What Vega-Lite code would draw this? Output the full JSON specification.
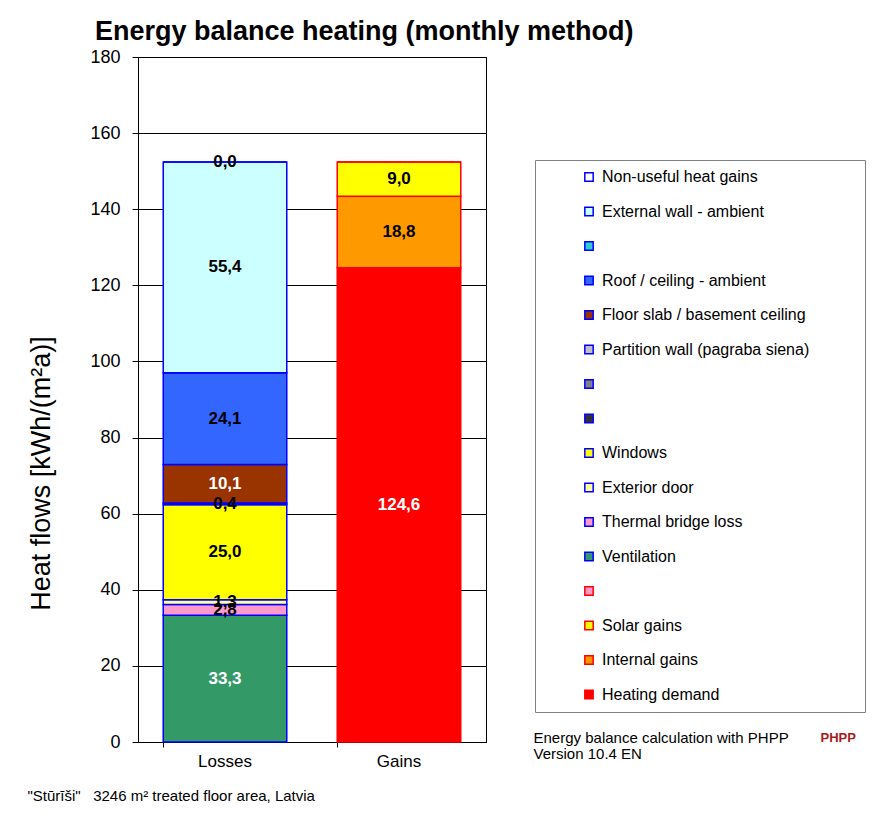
{
  "$schema": "https://vega.github.io/schema/vega-lite/v6.json",
  "width": 348,
  "height": 685,
  "autosize": {"type": "none"},
  "padding": {"left": 138, "top": 57, "right": 399, "bottom": 74},
  "background": "white",
  "title": {
    "text": "Energy balance heating (monthly method)",
    "anchor": "start",
    "frame": "group",
    "dx": -43,
    "dy": 26,
    "offset": 7,
    "baseline": "alphabetic",
    "font": "Liberation Sans",
    "fontSize": 27,
    "fontWeight": "bold",
    "color": "black"
  },
  "data": {
    "values": [
      {"bar": "Losses", "item": "Ventilation", "value": 33.3, "order": 1},
      {"bar": "Losses", "item": "Thermal bridge loss", "value": 2.8, "order": 2},
      {"bar": "Losses", "item": "Exterior door", "value": 1.3, "order": 3},
      {"bar": "Losses", "item": "Windows", "value": 25.0, "order": 4},
      {"bar": "Losses", "item": "b3", "value": 0, "order": 5},
      {"bar": "Losses", "item": "b2", "value": 0, "order": 6},
      {"bar": "Losses", "item": "Partition wall (pagraba siena)", "value": 0.4, "order": 7},
      {"bar": "Losses", "item": "Floor slab / basement ceiling", "value": 10.1, "order": 8},
      {"bar": "Losses", "item": "Roof / ceiling - ambient", "value": 24.1, "order": 9},
      {"bar": "Losses", "item": "b1", "value": 0, "order": 10},
      {"bar": "Losses", "item": "External wall - ambient", "value": 55.4, "order": 11},
      {"bar": "Losses", "item": "Non-useful heat gains", "value": 0.0, "order": 12},
      {"bar": "Gains", "item": "Heating demand", "value": 124.6, "order": 1},
      {"bar": "Gains", "item": "Internal gains", "value": 18.8, "order": 2},
      {"bar": "Gains", "item": "Solar gains", "value": 9.0, "order": 3},
      {"bar": "Gains", "item": "b4", "value": 0, "order": 4}
    ]
  },
  "transform": [
    {"stack": "value", "groupby": ["bar"], "sort": [{"field": "order", "order": "ascending"}], "as": ["y0", "y1"]},
    {"calculate": "(datum.y0 + datum.y1) / 2", "as": "ymid"},
    {"calculate": "replace(format(datum.value, '.1f'), '.', ',')", "as": "label"}
  ],
  "layer": [
    {
      "mark": {"type": "bar", "strokeWidth": 1.5},
      "encoding": {
        "x": {
          "field": "bar", "type": "nominal", "sort": ["Losses", "Gains"],
          "scale": {"paddingInner": 0.29, "paddingOuter": 0.145},
          "axis": {
            "orient": "bottom",
            "labelAngle": 0,
            "labelFont": "Liberation Sans",
            "labelFontSize": 17,
            "labelColor": "black",
            "labelPadding": 6,
            "tickSize": 5,
            "tickColor": "black",
            "domainColor": "black",
            "bandPosition": 0,
            "grid": false,
            "title": "\"Stūrīši\"\u00a0\u00a0 3246 m² treated floor area, Latvia",
            "titleX": -111,
            "titleY": 58,
            "titleAlign": "left",
            "titleAnchor": "start",
            "titleBaseline": "alphabetic",
            "titleFont": "Liberation Sans",
            "titleFontSize": 15,
            "titleFontWeight": "normal",
            "titleColor": "black"
          }
        },
        "y": {
          "field": "y0", "type": "quantitative",
          "scale": {"domain": [0, 180], "nice": false, "zero": true},
          "axis": {
            "orient": "left",
            "values": [0, 20, 40, 60, 80, 100, 120, 140, 160, 180],
            "grid": true,
            "gridColor": "black",
            "gridWidth": 1,
            "gridOpacity": 1,
            "domainColor": "black",
            "tickColor": "black",
            "tickSize": 6,
            "labelFont": "Liberation Sans",
            "labelFontSize": 18,
            "labelColor": "black",
            "labelPadding": 12,
            "title": "Heat flows [kWh/(m²a)]",
            "titleFont": "Liberation Sans",
            "titleFontSize": 27,
            "titleFontWeight": "normal",
            "titleColor": "black",
            "titleAngle": -90,
            "titleX": -89,
            "titleY": 416,
            "titleAlign": "center",
            "titleBaseline": "alphabetic"
          }
        },
        "y2": {"field": "y1"},
        "color": {
          "field": "item", "type": "nominal",
          "scale": {
            "domain": ["Non-useful heat gains", "External wall - ambient", "b1", "Roof / ceiling - ambient", "Floor slab / basement ceiling", "Partition wall (pagraba siena)", "b2", "b3", "Windows", "Exterior door", "Thermal bridge loss", "Ventilation", "b4", "Solar gains", "Internal gains", "Heating demand"],
            "range": ["#FFFFFF", "#CCFFFF", "#33CCCC", "#3366FF", "#993300", "#C0C0C0", "#808080", "#333333", "#FFFF00", "#FFFF99", "#FF99CC", "#339966", "#FF99CC", "#FFFF00", "#FF9900", "#FF0000"]
          },
          "legend": {
            "orient": "none",
            "legendX": 397,
            "legendY": 103,
            "direction": "vertical",
            "title": "\u2800\u2800\u2800\u2800",
            "titleOrient": "right",
            "titleFont": "DejaVu Sans",
            "titleFontSize": 15,
            "titleOpacity": 0,
            "titlePadding": 0,
            "symbolType": "square",
            "symbolSize": 70,
            "symbolStrokeWidth": 1.5,
            "symbolOffset": 37,
            "labelFont": "Liberation Sans",
            "labelFontSize": 16,
            "labelColor": "black",
            "labelLimit": 400,
            "labelOffset": 5,
            "labelExpr": "indexof(['b1','b2','b3','b4'], datum.label) >= 0 ? '' : datum.label",
            "rowPadding": 18.5,
            "padding": 9,
            "strokeColor": "#808080",
            "fillColor": "white",
            "encoding": {
              "symbols": {
                "stroke": {"value": {"expr": "indexof(['Solar gains','Internal gains','Heating demand','b4'], datum.value) >= 0 ? '#FF0000' : '#0000FF'"}},
                "strokeWidth": {"value": 1.5}
              }
            }
          }
        },
        "stroke": {"condition": {"test": "datum.bar === 'Losses'", "value": "#0000FF"}, "value": "#FF0000"}
      }
    },
    {
      "transform": [{"filter": "datum.value > 0 || datum.item === 'Non-useful heat gains'"}],
      "mark": {"type": "text", "font": "Liberation Sans", "fontSize": 17, "fontWeight": "bold", "baseline": "middle", "align": "center"},
      "encoding": {
        "x": {
          "field": "bar", "type": "nominal", "sort": ["Losses", "Gains"],
          "axis": {
            "orient": "bottom",
            "labels": false,
            "ticks": false,
            "domain": false,
            "grid": false,
            "title": ["Energy balance calculation with PHPP", "Version 10.4 EN"],
            "titleX": 395,
            "titleY": 0,
            "titleAlign": "left",
            "titleAnchor": "start",
            "titleBaseline": "alphabetic",
            "titleFont": "Liberation Sans",
            "titleFontSize": 15,
            "titleLineHeight": 16,
            "titleFontWeight": "normal",
            "titleColor": "black"
          }
        },
        "y": {
          "field": "ymid", "type": "quantitative",
          "axis": {
            "orient": "right",
            "labels": false,
            "ticks": false,
            "domain": false,
            "grid": false,
            "title": "PHPP",
            "titleAngle": 0,
            "titleX": 334,
            "titleY": 684,
            "titleAlign": "left",
            "titleAnchor": "start",
            "titleBaseline": "alphabetic",
            "titleFont": "Liberation Sans",
            "titleFontSize": 13,
            "titleFontWeight": "bold",
            "titleColor": "#A61C1C"
          }
        },
        "text": {"field": "label"},
        "color": {
          "condition": {"test": "indexof(['Ventilation','Floor slab / basement ceiling','Heating demand'], datum.item) >= 0", "value": "white"},
          "value": "black"
        }
      }
    }
  ],
  "resolve": {"axis": {"x": "independent", "y": "independent"}},
  "config": {
    "font": "Liberation Sans",
    "view": {"stroke": "black", "strokeWidth": 1}
  }
}
